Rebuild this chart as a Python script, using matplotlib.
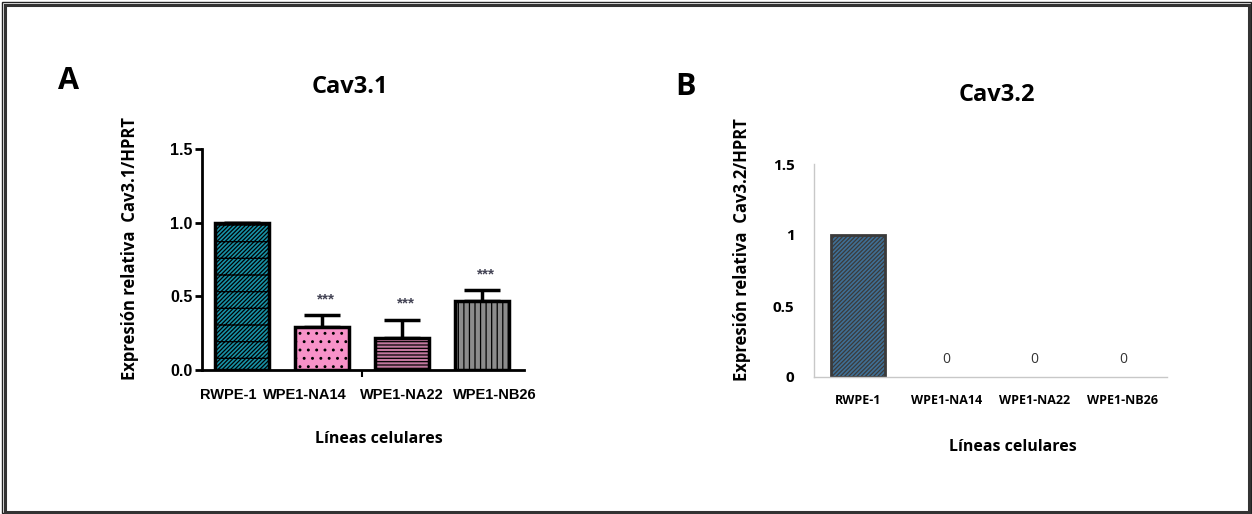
import numpy as np
import matplotlib
matplotlib.use("Agg")
import matplotlib.pyplot as plt
from matplotlib.patches import Rectangle

# ----------------------------
# DATA
# ----------------------------
lines = ["RWPE-1", "WPE1-NA14", "WPE1-NA22", "WPE1-NB26"]

cav31 = [1.0, 0.29, 0.22, 0.47]
cav31_err = [0.0, 0.08, 0.12, 0.07]
cav31_sig = ["", "***", "***", "***"]

cav32 = [1.0, 0.0, 0.0, 0.0]

# ----------------------------
# STYLE
# ----------------------------
W, H = 1252, 514
fig = plt.figure(figsize=(W / 100, H / 100), dpi=100)
plt.rcParams['hatch.linewidth'] = 0.9

lab_font = ['Open Sans', 'DejaVu Sans']
num_font = ['Liberation Sans', 'DejaVu Sans']


def px_axes(left, right, top, bottom):
    return fig.add_axes([left / W, 1 - bottom / H, (right - left) / W, (bottom - top) / H])


# outer double frame
fig.patches.append(Rectangle((1.5 / W, 1.5 / H), 1 - 3 / W, 1 - 3 / H, transform=fig.transFigure,
                             fill=False, lw=1.0, ec='#222222'))
fig.patches.append(Rectangle((5 / W, 2.5 / H), 1 - 8 / W, 1 - 7.5 / H, transform=fig.transFigure,
                             fill=False, lw=2.2, ec='#333333'))

# ----------------------------
# PANEL A : Cav3.1
# ----------------------------
axA = px_axes(202, 524, 149, 370)
x = np.arange(len(lines))
colsA = ['#1792a6', '#f792c8', '#c2779f', '#8c8c8c']
hatchA = ['////////-', '..', '-----', '|||']

axA.errorbar(x, cav31, yerr=[np.zeros(len(x)), cav31_err], fmt='none', ecolor='black',
             elinewidth=2.5, capsize=13, capthick=2.5, zorder=1)
for i in range(len(lines)):
    axA.bar(x[i], cav31[i], width=0.67, color=colsA[i], edgecolor='black', linewidth=2.5,
            hatch=hatchA[i], zorder=2)
    if cav31_sig[i]:
        axA.text(x[i] + 0.05, cav31[i] + cav31_err[i] + 0.11, cav31_sig[i], ha='center',
                 va='center', fontsize=11, color='#444455', family=num_font, fontweight='bold')

axA.set_xlim(-0.5, 3.525)
axA.set_ylim(0, 1.5)
axA.set_yticks([0, 0.5, 1.0, 1.5])
axA.set_yticklabels(['0.0', '0.5', '1.0', '1.5'], family=num_font, fontweight='bold', fontsize=11.5)
# category labels are not exactly centred under the bars in the original
axA.set_xticks(x + np.array([-0.17, -0.21, 0.0, 0.16]))
axA.set_xticklabels(lines, family=num_font, fontweight='bold', fontsize=10.5)
axA.set_xticks([1.5], minor=True)
axA.tick_params(axis='x', which='major', length=0, pad=13)
axA.tick_params(axis='x', which='minor', length=5, width=1.5, direction='out')
axA.tick_params(axis='y', length=5, width=2, pad=2)
for s in ['top', 'right']:
    axA.spines[s].set_visible(False)
for s in ['left', 'bottom']:
    axA.spines[s].set_linewidth(2)
axA.set_facecolor('none')

fig.text(350 / W, 1 - 87 / H, "Cav3.1", ha='center', va='center', fontsize=17,
         fontweight='bold', family=lab_font)
fig.text(68 / W, 1 - 81 / H, "A", ha='center', va='center', fontsize=22,
         fontweight='bold', family=lab_font)
fig.text(130 / W, 1 - 249 / H, "Expresión relativa  Cav3.1/HPRT", rotation=90, ha='center',
         va='center', fontsize=12, fontweight='bold', family=lab_font)
fig.text(379 / W, 1 - 439 / H, "Líneas celulares", ha='center', va='center', fontsize=11.5,
         fontweight='bold', family=lab_font)

# ----------------------------
# PANEL B : Cav3.2
# ----------------------------
axB = px_axes(814, 1167, 164, 377)
axB.bar(x[0], cav32[0], width=0.61, color='#3f6f95', edgecolor='#3a3a3a', linewidth=2,
        hatch='////////', zorder=2)
for i in range(1, len(lines)):
    axB.text(x[i], cav32[i] + 0.12, f"{cav32[i]:g}", ha='center', va='center', fontsize=10,
             color='#333333', family=lab_font)

axB.set_xlim(-0.5, 3.5)
axB.set_ylim(0, 1.5)
axB.set_yticks([0, 0.5, 1, 1.5])
axB.set_yticklabels(['0', '0.5', '1', '1.5'], family=lab_font, fontweight='bold', fontsize=11)
axB.set_xticks(x)
axB.set_xticklabels(lines, family=lab_font, fontweight='bold', fontsize=9)
axB.tick_params(axis='x', length=0, pad=12)
axB.tick_params(axis='y', length=0, pad=14)
for s in ['top', 'right']:
    axB.spines[s].set_visible(False)
for s in ['left', 'bottom']:
    axB.spines[s].set_color('#c8c8c8')
    axB.spines[s].set_linewidth(1)
axB.set_facecolor('none')

fig.text(997 / W, 1 - 95 / H, "Cav3.2", ha='center', va='center', fontsize=17,
         fontweight='bold', family=lab_font)
fig.text(685 / W, 1 - 87 / H, "B", ha='center', va='center', fontsize=22,
         fontweight='bold', family=lab_font)
fig.text(742 / W, 1 - 250 / H, "Expresión relativa  Cav3.2/HPRT", rotation=90, ha='center',
         va='center', fontsize=12, fontweight='bold', family=lab_font)
fig.text(1013 / W, 1 - 447 / H, "Líneas celulares", ha='center', va='center', fontsize=11.5,
         fontweight='bold', family=lab_font)

fig.savefig("out.png", dpi=100)
